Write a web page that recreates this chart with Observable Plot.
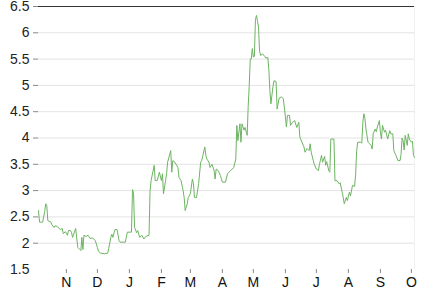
<!DOCTYPE html>
<html>
<head>
<meta charset="utf-8">
<script src="https://cdn.jsdelivr.net/npm/d3@7"></script>
<script src="https://cdn.jsdelivr.net/npm/@observablehq/plot@0.6"></script>
<style>
  html, body { margin: 0; padding: 0; background: #fff; }
</style>
</head>
<body>
<script>
const dates = [
"2018-10-05","2018-10-06","2018-10-09","2018-10-11","2018-10-12","2018-10-13","2018-10-14","2018-10-17","2018-10-18","2018-10-20",
"2018-10-21","2018-10-23","2018-10-26","2018-10-28","2018-10-29","2018-10-31","2018-11-02","2018-11-03","2018-11-05","2018-11-06",
"2018-11-07","2018-11-10","2018-11-11","2018-11-12","2018-11-14","2018-11-15","2018-11-16","2018-11-17","2018-11-18","2018-11-20",
"2018-11-22","2018-11-24","2018-11-26","2018-11-29","2018-12-01","2018-12-02","2018-12-04","2018-12-08","2018-12-11","2018-12-12",
"2018-12-14","2018-12-15","2018-12-16","2018-12-18","2018-12-20","2018-12-22","2018-12-23","2018-12-28","2018-12-30","2019-01-03",
"2019-01-04","2019-01-05","2019-01-06","2019-01-08","2019-01-09","2019-01-11","2019-01-13","2019-01-15","2019-01-17","2019-01-20",
"2019-01-21","2019-01-22","2019-01-25","2019-01-26","2019-01-28","2019-01-30","2019-02-01","2019-02-02","2019-02-03","2019-02-05",
"2019-02-06","2019-02-07","2019-02-10","2019-02-11","2019-02-12","2019-02-14","2019-02-17","2019-02-18","2019-02-20","2019-02-22",
"2019-02-23","2019-02-24","2019-02-26","2019-02-27","2019-03-01","2019-03-03","2019-03-04","2019-03-05","2019-03-07","2019-03-09",
"2019-03-11","2019-03-12","2019-03-15","2019-03-16","2019-03-17","2019-03-19","2019-03-20","2019-03-22","2019-03-24","2019-03-25",
"2019-03-26","2019-03-28","2019-03-30","2019-04-01","2019-04-04","2019-04-06","2019-04-09","2019-04-12","2019-04-14","2019-04-15",
"2019-04-16","2019-04-18","2019-04-19","2019-04-20","2019-04-22","2019-04-23","2019-04-25","2019-04-26","2019-04-27","2019-04-28",
"2019-04-29","2019-04-30","2019-05-01","2019-05-02","2019-05-03","2019-05-04","2019-05-05","2019-05-06","2019-05-07","2019-05-08",
"2019-05-10","2019-05-12","2019-05-13","2019-05-15","2019-05-16","2019-05-17","2019-05-18","2019-05-20","2019-05-21","2019-05-23",
"2019-05-24","2019-05-26","2019-05-28","2019-05-30","2019-06-01","2019-06-02","2019-06-03","2019-06-05","2019-06-06","2019-06-08",
"2019-06-10","2019-06-12","2019-06-14","2019-06-15","2019-06-17","2019-06-19","2019-06-20","2019-06-22","2019-06-24","2019-06-25",
"2019-06-26","2019-06-28","2019-06-29","2019-07-01","2019-07-03","2019-07-04","2019-07-06","2019-07-07","2019-07-09","2019-07-10",
"2019-07-11","2019-07-13","2019-07-14","2019-07-15","2019-07-18","2019-07-19","2019-07-21","2019-07-23","2019-07-24","2019-07-26",
"2019-07-27","2019-07-28","2019-07-30","2019-07-31","2019-08-02","2019-08-03","2019-08-05","2019-08-07","2019-08-08","2019-08-09",
"2019-08-10","2019-08-13","2019-08-14","2019-08-15","2019-08-16","2019-08-17","2019-08-18","2019-08-20","2019-08-21","2019-08-23",
"2019-08-24","2019-08-25","2019-08-27","2019-08-28","2019-08-29","2019-08-31","2019-09-01","2019-09-02","2019-09-03","2019-09-05",
"2019-09-06","2019-09-08","2019-09-10","2019-09-11","2019-09-13","2019-09-14","2019-09-16","2019-09-18","2019-09-20","2019-09-21",
"2019-09-22","2019-09-23","2019-09-24","2019-09-25","2019-09-27","2019-09-28","2019-09-29","2019-10-01","2019-10-02","2019-10-03",
"2019-10-04"
];
const values = [
2.62,2.40,2.40,2.60,2.75,2.72,2.43,2.40,2.35,2.30,
2.33,2.32,2.26,2.28,2.18,2.22,2.15,2.24,2.24,2.20,
2.11,2.28,2.10,1.92,1.88,1.86,2.11,1.88,2.15,2.13,
2.15,2.09,2.10,2.05,1.92,1.85,1.81,1.80,1.81,1.90,
2.11,2.17,2.11,2.26,2.26,2.05,2.02,2.02,2.21,2.21,
3.02,2.95,2.30,2.20,2.24,2.11,2.15,2.08,2.13,2.15,
3.00,3.19,3.48,3.19,3.19,3.35,3.19,3.32,2.94,3.19,
3.32,3.54,3.76,3.35,3.57,3.54,3.44,3.25,3.19,3.00,
2.87,2.62,2.75,2.87,2.94,3.22,3.13,2.87,2.87,3.13,
3.54,3.57,3.83,3.67,3.60,3.54,3.44,3.50,3.38,3.22,
3.41,3.38,3.29,3.16,3.16,3.32,3.38,3.44,3.60,4.24,
3.95,4.27,3.92,4.27,4.15,4.20,4.05,4.60,5.00,5.50,
5.50,5.70,5.54,5.55,6.25,6.33,6.22,6.11,5.65,5.57,
5.60,5.55,5.52,5.53,5.30,4.90,4.65,4.98,5.09,5.07,
4.55,4.76,4.78,4.75,4.40,4.21,4.43,4.43,4.24,4.30,
4.33,4.20,4.30,4.02,3.92,3.83,3.73,3.80,3.76,3.89,
3.73,3.57,3.50,3.41,3.38,3.50,3.67,3.54,3.65,3.48,
3.55,3.38,3.35,3.98,3.98,3.19,3.19,3.13,3.15,2.97,
2.87,2.75,2.87,2.81,2.97,2.90,3.10,3.08,3.30,3.75,
3.92,3.92,3.90,4.30,4.46,4.37,4.17,3.92,3.90,3.86,
3.79,4.08,4.17,4.12,4.21,4.33,4.11,3.98,4.24,4.11,
4.15,3.98,4.14,4.08,4.08,3.76,3.67,3.57,3.57,3.69,
4.00,3.95,3.77,4.05,3.86,4.08,3.98,3.92,3.94,3.67,
3.63
];
const yTicks = [1.5, 2, 2.5, 3, 3.5, 4, 4.5, 5, 5.5, 6, 6.5];
const monthLetters = ["J","F","M","A","M","J","J","A","S","O","N","D"];

const data = dates.map((d, i) => ({date: new Date(d + "T00:00:00Z"), value: values[i]}));
const x0 = data[0].date, x1 = data[data.length - 1].date;
const monthTicks = d3.utcMonths(x0, x1);

const chart = Plot.plot({
  width: 427,
  height: 291,
  marginTop: 6,
  marginBottom: 22,
  marginLeft: 38,
  marginRight: 13,
  style: {fontFamily: "'Liberation Sans', Arial, Helvetica, sans-serif", fontSize: "14px", background: "#fff", overflow: "visible"},
  x: {type: "utc", domain: [x0, x1]},
  y: {domain: [1.5, 6.5]},
  marks: [
    Plot.gridY(yTicks.filter(t => t > 1.5 && t < 6.5), {stroke: "#e3e3e3", strokeOpacity: 1}),
    Plot.ruleX([x1], {stroke: "#f0f0f0"}),
    Plot.ruleY([6.5], {stroke: "#333", strokeWidth: 1}),
    Plot.axisY(yTicks.filter(t => t > 1.5), {tickSize: 5, tickPadding: 4, stroke: "#888", fill: "#222", tickFormat: d => String(d), label: null, fontSize: 14}),
    Plot.axisY([1.5], {tickSize: 0, tickPadding: 9, fill: "#222", tickFormat: d => String(d), label: null, fontSize: 14}),
    Plot.axisX(monthTicks, {tickSize: 4, tickPadding: 4, stroke: "#888", fill: "#111", tickFormat: d => monthLetters[d.getUTCMonth()], label: null, fontSize: 14}),
    Plot.lineY(data, {x: "date", y: "value", stroke: "#6db462", strokeWidth: 1})
  ]
});
document.body.appendChild(chart);
</script>
</body>
</html>
